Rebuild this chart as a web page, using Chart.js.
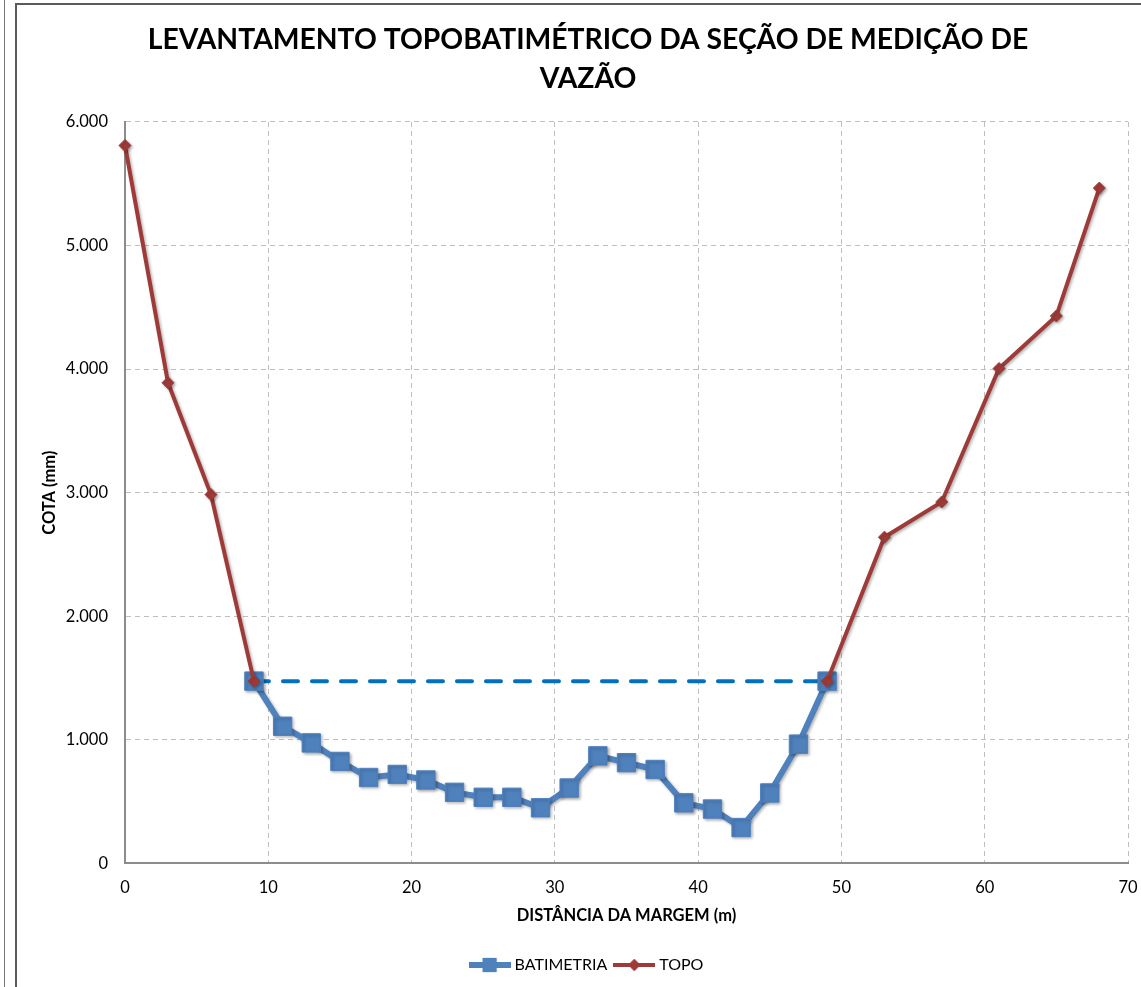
<!DOCTYPE html>
<html>
<head>
<meta charset="utf-8">
<script src="https://cdn.jsdelivr.net/npm/chart.js@4"></script>
<style>
    html, body { margin: 0; padding: 0; background: #fff; overflow: hidden; }
    .frame {
        position: absolute; left: 15px; top: 3px;
        width: 1144px; height: 988px;
        border-left: 2px solid #5a5a5a; border-top: 2px solid #5a5a5a;
    }
    .edge { position: absolute; left: 0; top: 0; width: 4px; height: 987px; border-right: 1px solid #777; }
</style>
</head>
<body>
<div class="edge"></div>
<div class="frame"><canvas id="chart" width="1144" height="988"></canvas></div>
<script>
const title = ['LEVANTAMENTO TOPOBATIMÉTRICO DA SEÇÃO DE MEDIÇÃO DE', 'VAZÃO'];
const xTitle = 'DISTÂNCIA DA MARGEM (m)';
const yTitle = 'COTA (mm)';

// batimetria: distance (m) / cota (mm)
const batDist = [9, 11, 13, 15, 17, 19, 21, 23, 25, 27, 29, 31, 33, 35, 37, 39, 41, 43, 45, 47, 49];
const batCota = [1475, 1110, 975, 825, 695, 720, 675, 575, 535, 535, 450, 610, 870, 815, 760, 490, 440, 290, 570, 965, 1475];

// topo, left bank and right bank
const topoLeftDist = [0, 3, 6, 9];
const topoLeftCota = [5810, 3890, 2985, 1475];
const topoRightDist = [49, 53, 57, 61, 65, 68];
const topoRightCota = [1475, 2640, 2925, 4005, 4430, 5465];

// water level line
const waterDist = [9, 49];
const waterCota = [1475, 1475];

const yTicks = [0, 1000, 2000, 3000, 4000, 5000, 6000];

const BLUE = '#4F81BD';
const RED = '#9E3B39';
const FONT = 'Lato';

const pts = (xs, ys) => xs.map((x, i) => ({x, y: ys[i]}));

function legendIcon(color, lineW, style, r) {
    const c = document.createElement('canvas');
    c.width = 42; c.height = 20;
    const ctx = c.getContext('2d');
    ctx.strokeStyle = color;
    ctx.fillStyle = color;
    ctx.lineWidth = lineW;
    ctx.beginPath();
    ctx.moveTo(0, 10); ctx.lineTo(42, 10);
    ctx.stroke();
    Chart.helpers.drawPoint(ctx, {pointStyle: style, radius: r, borderWidth: 0, rotation: 0}, 21, 10);
    ctx.fill();
    return c;
}

const shadow = {
    id: 'shadow',
    beforeDatasetDraw(chart, args) {
        if (args.index === 3) return;
        const ctx = chart.ctx;
        ctx.save();
        ctx.shadowColor = 'rgba(0,0,0,0.3)';
        ctx.shadowBlur = 3;
        ctx.shadowOffsetX = 1.5;
        ctx.shadowOffsetY = 1.5;
    },
    afterDatasetDraw(chart, args) {
        if (args.index === 3) return;
        chart.ctx.restore();
    }
};

const topoStyle = {
    label: 'TOPO',
    borderColor: RED,
    backgroundColor: RED,
    borderWidth: 4,
    pointStyle: 'rectRot',
    pointRadius: 6,
    pointBorderWidth: 1,
    clip: false,
    order: 1
};

new Chart(document.getElementById('chart'), {
    type: 'line',
    data: {
        datasets: [
            {
                label: 'BATIMETRIA',
                data: pts(batDist, batCota),
                borderColor: BLUE,
                backgroundColor: BLUE,
                borderWidth: 6,
                pointStyle: 'rect',
                pointRadius: 13,
                pointBorderWidth: 1,
                clip: false,
                order: 2
            },
            {...topoStyle, data: pts(topoLeftDist, topoLeftCota)},
            {...topoStyle, data: pts(topoRightDist, topoRightCota)},
            {
                label: 'nivel',
                data: pts(waterDist, waterCota),
                borderColor: '#0070C0',
                borderWidth: 4,
                borderDash: [15, 14],
                borderCapStyle: 'round',
                pointRadius: 0,
                order: 3
            }
        ]
    },
    options: {
        responsive: false,
        animation: false,
        events: [],
        layout: {padding: {left: 31, right: 33, top: 0, bottom: 10}},
        plugins: {
            title: {
                display: true,
                text: title,
                color: '#000',
                font: {family: FONT, size: 28.3, weight: 'bold', lineHeight: 1.36},
                padding: {top: 16, bottom: 24}
            },
            legend: {
                position: 'bottom',
                labels: {
                    color: '#000',
                    font: {family: FONT, size: 16},
                    usePointStyle: true,
                    pointStyleWidth: 34,
                    padding: 10,
                    generateLabels() {
                        return [
                            {text: 'BATIMETRIA', datasetIndex: 0, fontColor: '#000', lineWidth: 0,
                             pointStyle: legendIcon(BLUE, 6, 'rect', 10)},
                            {text: 'TOPO', datasetIndex: 1, fontColor: '#000', lineWidth: 0,
                             pointStyle: legendIcon(RED, 4, 'rectRot', 6)}
                        ];
                    }
                }
            },
            tooltip: {enabled: false}
        },
        scales: {
            x: {
                type: 'linear',
                min: 0,
                max: 70,
                ticks: {stepSize: 10, color: '#000', font: {family: FONT, size: 16.5}, padding: 14},
                grid: {color: '#bfbfbf', drawTicks: false},
                border: {color: '#8c8c8c', width: 2, dash: [5, 4]},
                title: {
                    display: true, text: xTitle, color: '#000',
                    font: {family: FONT, size: 16.5, weight: 'bold'},
                    padding: {top: -5, bottom: 21}
                }
            },
            y: {
                min: 0,
                max: 6000,
                afterFit(scale) { scale.width = 77; },
                afterBuildTicks(scale) { scale.ticks = yTicks.map(v => ({value: v})); },
                ticks: {
                    color: '#000', font: {family: FONT, size: 16.5}, padding: 17,
                    callback: v => v.toLocaleString('pt-BR')
                },
                grid: {color: '#bfbfbf', drawTicks: false},
                border: {color: '#8c8c8c', width: 2, dash: [5, 4]},
                title: {
                    display: true, text: yTitle, color: '#000',
                    font: {family: FONT, size: 16.5, weight: 'bold'},
                    padding: {top: -8}
                }
            }
        }
    },
    plugins: [shadow]
});
</script>
</body>
</html>
